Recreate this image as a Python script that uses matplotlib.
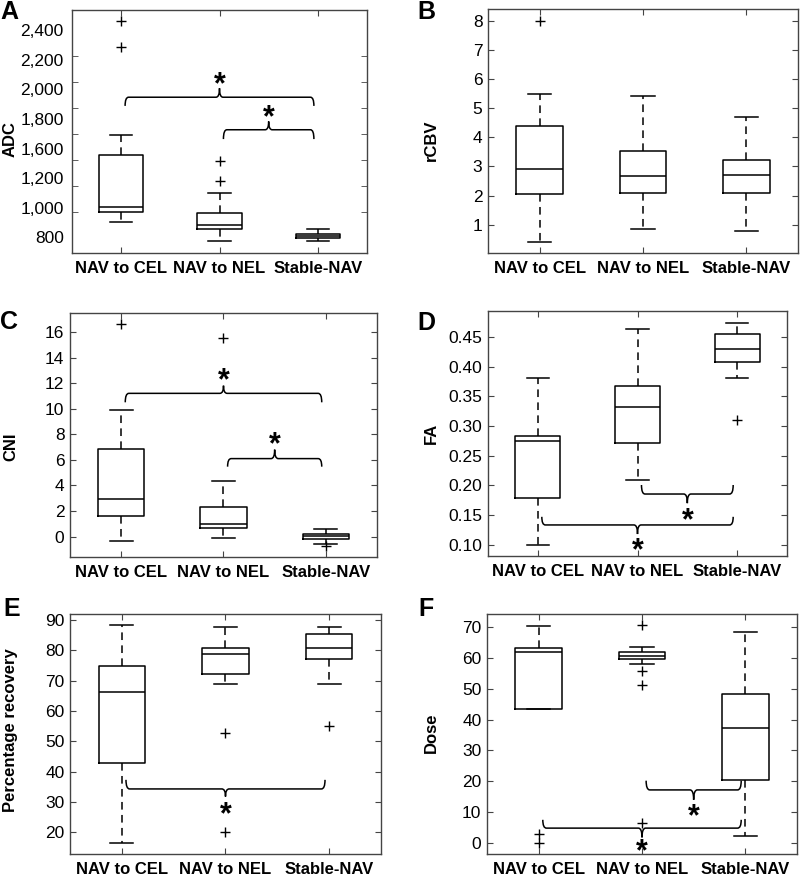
import numpy as np
import matplotlib
matplotlib.use("Agg")
import matplotlib.pyplot as plt
from matplotlib.path import Path
from matplotlib.patches import PathPatch

plt.rcParams['font.family'] = ['Liberation Sans', 'DejaVu Sans']

groups = ["NAV to CEL", "NAV to NEL", "Stable-NAV"]

# per panel box stats: (whisker low, q1, median, q3, whisker high), outliers
adc_stats = [(918, 995, 1036, 1433, 1592), (769, 862, 895, 987, 1144), (769, 795, 810, 826, 867)]
adc_fliers = [[2272, 2472], [1238, 1392], []]
rcbv_stats = [(0.42, 2.05, 2.9, 4.38, 5.5), (0.84, 2.09, 2.67, 3.52, 5.4), (0.79, 2.09, 2.7, 3.21, 4.68)]
rcbv_fliers = [[8.0], [], []]
cni_stats = [(-0.34, 1.61, 2.92, 6.82, 9.92), (-0.1, 0.65, 1.02, 2.32, 4.38), (-0.55, -0.16, 0.03, 0.23, 0.57)]
cni_fliers = [[16.6], [15.5], [-0.76]]
fa_stats = [(0.10, 0.178, 0.2746, 0.2824, 0.381), (0.2095, 0.272, 0.332, 0.368, 0.4635), (0.38, 0.4074, 0.43, 0.455, 0.474)]
fa_fliers = [[], [], [0.31]]
rec_stats = [(16.5, 42.9, 66.3, 74.8, 88.2), (68.9, 72.1, 78.9, 80.8, 87.8), (68.9, 77.3, 80.9, 85.4, 87.8)]
rec_fliers = [[], [52.8, 20.0], [54.9]]
dose_stats = [(43.6, 43.6, 62.0, 63.2, 70.5), (58.2, 59.7, 60.8, 62.1, 63.5), (2.1, 20.4, 37.3, 48.2, 68.6)]
dose_fliers = [[2.8, 0.0], [70.7, 55.9, 51.1, 6.4], []]

# significance braces: (group a, group b, y line, y ends, y tip, y star)
adc_sig = [(1, 3, 1882, 1815, 1951, 2028), (2, 3, 1631, 1559, 1695, 1772)]
cni_sig = [(1, 3, 11.2, 10.5, 11.8, 12.7), (2, 3, 6.1, 5.47, 6.8, 7.66)]
fa_sig = [(2, 3, 0.1854, 0.2006, 0.170, 0.152), (1, 3, 0.1333, 0.147, 0.118, 0.101)]
rec_sig = [(1, 3, 34.3, 37.3, 31.8, 27.9)]
dose_sig = [(2, 3, 17.2, 20.2, 14.0, 10.7), (1, 3, 4.8, 7.5, 1.8, -0.8)]

W, H = 800, 876
fig = plt.figure(figsize=(W / 100, H / 100), dpi=100)


def add_ax(l, t, r, b):
    return fig.add_axes([l / W, 1 - b / H, (r - l) / W, (b - t) / H])


def brace(ax, a, b, y, yend, ytip, off=0.04, r=0.035):
    x1, x2 = a + off, b - off
    xm = (x1 + x2) / 2
    verts = [(x1, yend), (x1, y), (x1 + r, y), (xm - r, y), (xm, y), (xm, ytip),
             (xm, ytip), (xm, y), (xm + r, y), (x2 - r, y), (x2, y), (x2, yend)]
    codes = [Path.MOVETO, Path.CURVE3, Path.CURVE3, Path.LINETO, Path.CURVE3, Path.CURVE3,
             Path.MOVETO, Path.CURVE3, Path.CURVE3, Path.LINETO, Path.CURVE3, Path.CURVE3]
    ax.add_patch(PathPatch(Path(verts, codes), fill=False, lw=1.1, ec='black', clip_on=False))


def panel(ax, stats, fliers, ylabel, ylim, sig=()):
    bx = []
    for s, f, name in zip(stats, fliers, groups):
        bx.append(dict(whislo=s[0], q1=s[1], med=s[2], q3=s[3], whishi=s[4], fliers=f, label=name))
    ax.bxp(bx, positions=[1, 2, 3], widths=0.45,
           boxprops=dict(color='black', lw=1.1),
           medianprops=dict(color='black', lw=1.1),
           whiskerprops=dict(color='black', lw=1.1, linestyle=(0, (5, 3.5))),
           capprops=dict(color='black', lw=1.1),
           flierprops=dict(marker='+', markersize=7, markeredgecolor='black', markeredgewidth=1.0))
    ax.set_xlim(0.5, 3.5)
    ax.set_ylim(*ylim)
    ax.set_xticks([1, 2, 3])
    ax.set_xticklabels(groups, fontsize=12, fontweight='bold')
    ax.tick_params(axis='x', direction='in', length=4, top=True, pad=6, color='#444')
    ax.tick_params(axis='y', direction='in', length=4, right=True, labelsize=12.5, pad=4, color='#444')
    for sp in ax.spines.values():
        sp.set_color('#444')
        sp.set_linewidth(1.0)
    ax.set_ylabel(ylabel, fontsize=12, fontweight='bold')
    for a, b, y, ye, yt, ys in sig:
        brace(ax, a, b, y, ye, yt)
        ax.annotate("*", ((a + b) / 2, ys), xytext=(0, -5), textcoords='offset points',
                    ha='center', va='center', fontsize=22, fontweight='bold')


def place_ylabel(ax, x_px, y_px):
    ax.yaxis.set_label_coords(x_px / W, 1 - y_px / H, transform=fig.transFigure)


# A
axA = add_ax(72, 10, 367, 253)
panel(axA, adc_stats, adc_fliers, "ADC", (680, 2555), adc_sig)
axA.set_yticks(np.arange(800, 2401, 200), minor=True)
axA.set_yticks(np.linspace(800, 2400, 8))
axA.set_yticklabels(["800", "1,000", "1,200", "1,600", "1,800", "2,000", "2,200", "2,400"])
axA.tick_params(axis='y', which='major', length=0, pad=6)
axA.tick_params(axis='y', which='minor', direction='in', length=4, left=True, right=True, color='#444')
place_ylabel(axA, 18, 139)

# B
axB = add_ax(488, 9, 798, 253)
panel(axB, rcbv_stats, rcbv_fliers, "rCBV", (0.03, 8.4))
axB.set_yticks(range(1, 9))
place_ylabel(axB, 439, 140)

# C
axC = add_ax(70, 313, 377, 557)
panel(axC, cni_stats, cni_fliers, "CNI", (-1.59, 17.48), cni_sig)
axC.set_yticks(range(0, 17, 2))
place_ylabel(axC, 18, 447)

# D
axD = add_ax(488, 311, 787, 556)
panel(axD, fa_stats, fa_fliers, "FA", (0.081, 0.4937), fa_sig)
axD.set_yticks(np.arange(0.10, 0.451, 0.05))
axD.set_yticklabels([f"{v:.2f}" for v in np.arange(0.10, 0.451, 0.05)])
place_ylabel(axD, 439, 433)

# E
axE = add_ax(70, 614, 381, 854)
panel(axE, rec_stats, rec_fliers, "Percentage recovery", (12.85, 91.98), rec_sig)
axE.set_yticks(range(20, 91, 10))
place_ylabel(axE, 18, 730)

# F
axF = add_ax(487, 614, 797, 854)
panel(axF, dose_stats, dose_fliers, "Dose", (-3.6, 74.3), dose_sig)
axF.set_yticks(range(0, 71, 10))
place_ylabel(axF, 439, 733)

for letter, x, y in [("A", 0, 0), ("B", 417, 0), ("C", 0, 310), ("D", 417, 311), ("E", 3, 597), ("F", 418, 597)]:
    fig.text(x / W, 1 - y / H, letter, fontsize=18, fontweight='bold', ha='left', va='top')

fig.savefig("out.png", dpi=100)
